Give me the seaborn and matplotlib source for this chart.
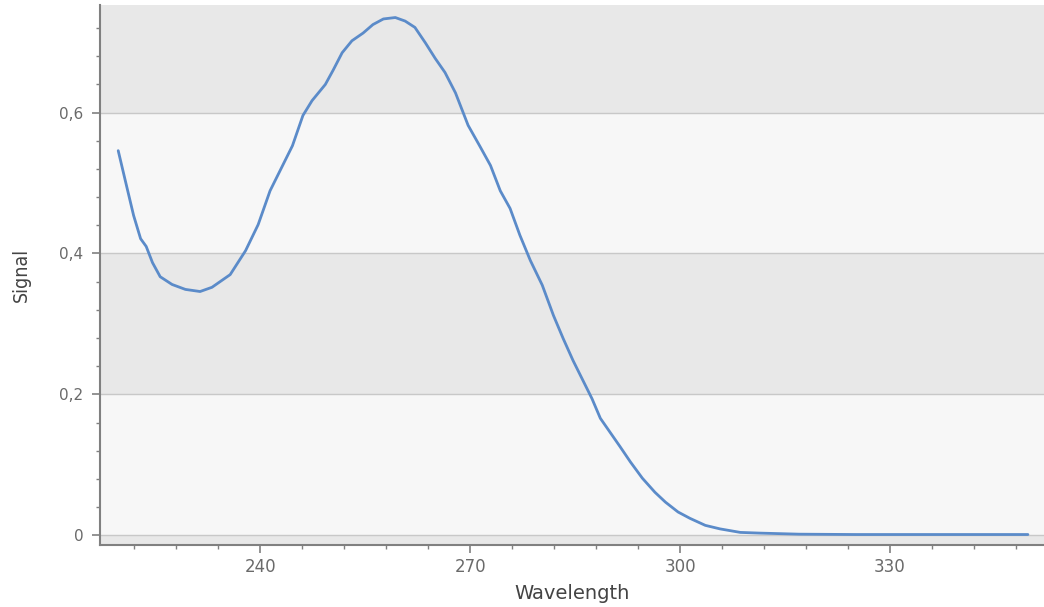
import numpy as np
import pandas as pd
import seaborn as sns
import matplotlib.pyplot as plt
from matplotlib.ticker import MultipleLocator, FuncFormatter

# spectrum
wavelength = [219.7, 220.7, 221.9, 222.9, 223.7, 224.6, 225.7, 227.4, 229.3, 231.4,
              233.1, 235.7, 237.9, 239.7, 241.4, 243.1, 244.6, 246.1, 247.4, 249.3,
              250.4, 251.7, 253.1, 254.7, 256.1, 257.6, 259.3, 260.7, 262.1, 263.6,
              265.0, 266.4, 267.9, 269.7, 271.4, 272.9, 274.3, 275.7, 277.1, 278.6,
              280.3, 281.9, 283.3, 284.7, 286.1, 287.4, 288.6, 290.0, 291.4, 292.9,
              294.6, 296.4, 297.9, 299.7, 301.4, 303.6, 305.7, 308.6, 311.4, 317.0,
              325.0, 335.0, 343.0, 349.7]
signal = [0.546, 0.504, 0.454, 0.421, 0.410, 0.387, 0.367, 0.356, 0.349, 0.346,
          0.352, 0.370, 0.404, 0.441, 0.489, 0.523, 0.553, 0.596, 0.617, 0.640,
          0.660, 0.685, 0.702, 0.713, 0.725, 0.733, 0.735, 0.730, 0.721, 0.699,
          0.677, 0.657, 0.628, 0.582, 0.552, 0.525, 0.489, 0.464, 0.426, 0.390,
          0.355, 0.312, 0.279, 0.248, 0.220, 0.194, 0.166, 0.146, 0.126, 0.104,
          0.081, 0.061, 0.047, 0.033, 0.024, 0.014, 0.009, 0.004, 0.003, 0.0015,
          0.001, 0.001, 0.001, 0.001]

df = pd.DataFrame({"Wavelength": wavelength, "Signal": signal})

sns.set_style("ticks")
plt.rcParams["font.family"] = ["DejaVu Sans"]

fig = plt.figure(figsize=(10.44, 6.07), dpi=100)
ax = fig.add_axes([0.0958, 0.102, 0.9042, 0.890])

# alternating gray bands between the major y ticks
ymin, ymax = -0.014, 0.753
band_edges = [ymin, 0.0, 0.2, 0.4, 0.6, ymax]
for i in range(len(band_edges) - 1):
    col = "#e8e8e8" if i % 2 == 0 else "#f7f7f7"
    ax.axhspan(band_edges[i], band_edges[i + 1], color=col, zorder=0, lw=0)
for yv in [0.0, 0.2, 0.4, 0.6]:
    ax.axhline(yv, color="#c8c8c8", lw=1.0, zorder=1)

sns.lineplot(data=df, x="Wavelength", y="Signal", ax=ax, color="#5b8bc9", lw=2.0, zorder=3)

ax.set_xlim(217.1, 352.0)
ax.set_ylim(ymin, ymax)
ax.xaxis.set_major_locator(MultipleLocator(30))
ax.xaxis.set_minor_locator(MultipleLocator(6))
ax.yaxis.set_major_locator(MultipleLocator(0.2))
ax.yaxis.set_minor_locator(MultipleLocator(0.04))
ax.yaxis.set_major_formatter(FuncFormatter(lambda v, p: "0" if abs(v) < 1e-9 else f"{v:.1f}".replace(".", ",")))

ax.tick_params(axis="both", which="major", length=6, width=1.2, color="#808080",
               labelcolor="#6a6a6a")
ax.tick_params(axis="y", which="major", labelsize=11, pad=6)
ax.tick_params(axis="x", which="major", labelsize=12, pad=3)
ax.tick_params(axis="both", which="minor", length=3, width=1.0, color="#808080")

for side in ["top", "right"]:
    ax.spines[side].set_visible(False)
for side in ["left", "bottom"]:
    ax.spines[side].set_color("#808080")
    ax.spines[side].set_linewidth(1.5)

ax.set_xlabel("Wavelength", fontsize=14, color="#444444", labelpad=6)
ax.set_ylabel("Signal", fontsize=14, color="#444444", labelpad=20, fontstretch="condensed")

fig.savefig("out.png", dpi=100)
